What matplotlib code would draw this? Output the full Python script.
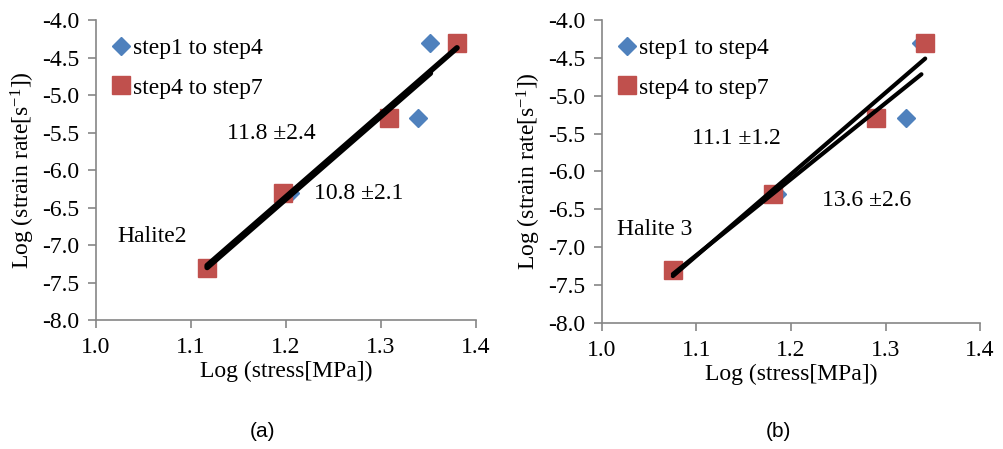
import numpy as np
import matplotlib.pyplot as plt

plt.rcParams['font.family'] = ['Liberation Serif', 'DejaVu Serif']
plt.rcParams['axes.unicode_minus'] = False
plt.rcParams['mathtext.fontset'] = 'custom'
plt.rcParams['mathtext.rm'] = 'Liberation Serif'

# log strain rate for each step
strain_a = [-7.3, -6.3, -5.3, -4.3]
strain_b = [-7.3, -6.3, -5.3, -4.3]

# Halite2: log stress, step1-step4 (blue) and step4-step7 (red)
stress_a_blue = [1.117, 1.204, 1.339, 1.352]
stress_a_red = [1.117, 1.197, 1.308, 1.380]
# Halite 3
stress_b_blue = [1.075, 1.185, 1.322, 1.338]
stress_b_red = [1.075, 1.181, 1.290, 1.342]

labels = ['step1 to step4', 'step4 to step7']
notes_a = ['11.8 \u00b12.4', '10.8 \u00b12.1', 'Halite2']
notes_b = ['11.1 \u00b11.2', '13.6 \u00b12.6', 'Halite 3']

blue = '#4F81BD'
red = '#C0504D'
grey = '#868686'
fs = 17

fig = plt.figure(figsize=(10.04, 4.49), dpi=100)
ax1 = fig.add_axes([0.0956, 0.2873, 0.3785, 0.668])
ax2 = fig.add_axes([0.5996, 0.2806, 0.3765, 0.675])


def panel(ax, xb, xr, y, notes, pos, lw):
    ax.plot(xb, y, 'D', color=blue, markersize=9.5, label=labels[0], zorder=3)
    ax.plot(xr, y, 's', color=red, markersize=12.5, label=labels[1], zorder=4)
    # linear trendlines over each series
    for xs in (xb, xr):
        k, b = np.polyfit(xs, y, 1)
        xx = np.array([min(xs), max(xs)])
        ax.plot(xx, k * xx + b, color='black', lw=lw, solid_capstyle='round', zorder=5)
    ax.set_xlim(1.0, 1.4)
    ax.set_ylim(-8.0, -4.0)
    ax.set_xticks(np.arange(1.0, 1.41, 0.1))
    ax.set_yticks(np.arange(-8.0, -3.99, 0.5))
    ax.xaxis.set_major_formatter(plt.FormatStrFormatter('%.1f'))
    ax.yaxis.set_major_formatter(plt.FormatStrFormatter('%.1f'))
    for s in ('top', 'right'):
        ax.spines[s].set_visible(False)
    for s in ('left', 'bottom'):
        ax.spines[s].set_color(grey)
        ax.spines[s].set_linewidth(1.2)
    ax.tick_params(colors=grey, labelcolor='black', labelsize=fs, length=6, width=1.2, pad=6)
    ax.set_xlabel('Log (stress[MPa])', fontsize=fs, labelpad=2)
    ax.set_ylabel(r'Log (strain rate[s$\mathregular{^{-1}}$])', fontsize=fs, labelpad=4)
    for t, (x, yy, ha) in zip(notes, pos):
        ax.text(x, yy, t, fontsize=fs, ha=ha, va='center')
    ax.legend(loc='upper left', frameon=False, fontsize=fs, handletextpad=0.0,
              borderaxespad=0.1, labelspacing=0.75, handlelength=1.0,
              bbox_to_anchor=(0.005, 0.98))


panel(ax1, stress_a_blue, stress_a_red, strain_a, notes_a,
      [(1.185, -5.51, 'center'), (1.276, -6.31, 'center'), (1.022, -6.88, 'left')], 4)
panel(ax2, stress_b_blue, stress_b_red, strain_b, notes_b,
      [(1.142, -5.56, 'center'), (1.280, -6.38, 'center'), (1.016, -6.77, 'left')], 3)

fig.text(0.261, 0.038, '(a)', fontsize=15, ha='center', va='center', family='Liberation Sans')
fig.text(0.775, 0.038, '(b)', fontsize=15, ha='center', va='center', family='Liberation Sans')

fig.savefig('out.png', dpi=100)
